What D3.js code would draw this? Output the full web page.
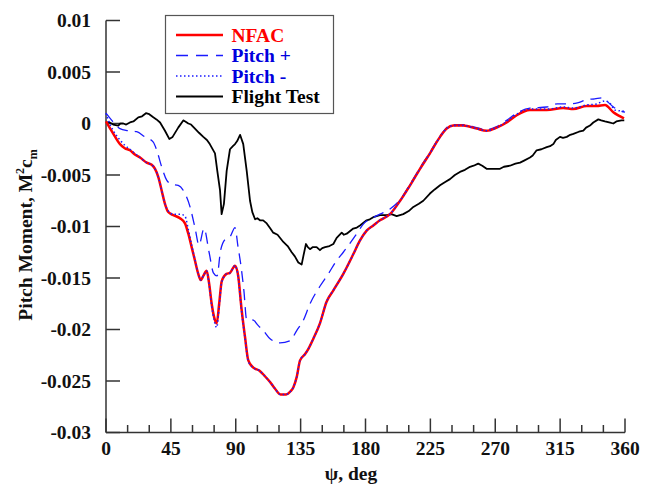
<!DOCTYPE html>
<html><head><meta charset="utf-8">
<script src="https://cdn.jsdelivr.net/npm/d3@7"></script>
<style>body{margin:0;background:#fff}svg{display:block}</style>
</head><body><svg id="c" width="655" height="489"></svg>
<script>
// ---- data (psi deg, pitch moment) ----
const xTicks = [0, 45, 90, 135, 180, 225, 270, 315, 360];
const yTicks = [0.01, 0.005, 0, -0.005, -0.01, -0.015, -0.02, -0.025, -0.03];
const yTickLabels = ["0.01", "0.005", "0", "-0.005", "-0.01", "-0.015", "-0.02", "-0.025", "-0.03"];
const seriesNames = ["NFAC", "Pitch +", "Pitch -", "Flight Test"];

const nfac = [[0,0.0002],[2.5,-0.0004],[5.1,-0.001],[9.7,-0.002],[13,-0.0024],[16.6,-0.0026],[20,-0.003],[23.6,-0.0033],[28.2,-0.0038],[31.7,-0.004],[34,-0.0044],[36.3,-0.0052],[38.6,-0.0065],[40.9,-0.0078],[43.2,-0.0086],[46.7,-0.0089],[51.3,-0.0092],[54.8,-0.0097],[57.1,-0.0107],[59.4,-0.012],[61.7,-0.0133],[64,-0.0146],[65.7,-0.0152],[67.5,-0.0148],[69.8,-0.0143],[71.5,-0.0155],[73.3,-0.0175],[75,-0.0188],[76.8,-0.0194],[78.5,-0.0175],[80.3,-0.0153],[83.6,-0.0146],[86,-0.0145],[89.5,-0.0138],[91.7,-0.0148],[94,-0.018],[96.4,-0.0207],[98.7,-0.023],[102.2,-0.0237],[106.5,-0.024],[110,-0.0245],[113.8,-0.0251],[117,-0.0257],[121,-0.0263],[125,-0.0263],[128,-0.026],[130,-0.0256],[132.3,-0.0246],[134.6,-0.023],[138,-0.0224],[140.3,-0.0219],[143.8,-0.0209],[148.4,-0.0194],[153,-0.0173],[157.7,-0.0162],[164.6,-0.0146],[171.5,-0.0127],[176,-0.0114],[180.8,-0.0104],[185.4,-0.0099],[190,-0.0094],[197,-0.0088],[204,-0.0075],[210.9,-0.006],[217.8,-0.0044],[224.7,-0.0029],[231.7,-0.0013],[236.3,-0.0005],[240.9,-0.0002],[247.8,-0.0002],[257.1,-0.0005],[264,-0.0007],[271,-0.0004],[277.9,0.0001],[284.9,0.0008],[294.1,0.0013],[305.7,0.0013],[317.2,0.0015],[324.1,0.0014],[333.4,0.0017],[340.3,0.0017],[346.1,0.0018],[351.9,0.0011],[359.3,0.0005]];

const pitchMinus = [[0,0.001],[2.5,0.0],[5.1,-0.0007],[9.7,-0.0016],[13,-0.0021],[16.6,-0.0025],[20,-0.0029],[23.6,-0.0033],[28.2,-0.0038],[31.7,-0.004],[34,-0.0044],[36.3,-0.0052],[38.6,-0.0065],[40.9,-0.0078],[43.2,-0.0085],[46.7,-0.0088],[51.3,-0.0088],[54.8,-0.009],[57.1,-0.0103],[59.4,-0.0118],[61.7,-0.0132],[64,-0.0146],[65.7,-0.0152],[67.5,-0.0148],[69.8,-0.0143],[71.5,-0.0156],[73.3,-0.0177],[75,-0.0191],[76.8,-0.0198],[78.5,-0.0178],[80.3,-0.0154],[83.6,-0.0146],[86,-0.0145],[89.5,-0.0138],[91.7,-0.0149],[94,-0.0182],[96.4,-0.0208],[98.7,-0.0231],[102.2,-0.0237],[106.5,-0.024],[110,-0.0245],[113.8,-0.0251],[117,-0.0257],[121,-0.0263],[125,-0.0263],[128,-0.026],[130,-0.0256],[132.3,-0.0246],[134.6,-0.023],[138,-0.0224],[140.3,-0.0219],[143.8,-0.0209],[148.4,-0.0194],[153,-0.0173],[157.7,-0.0162],[164.6,-0.0146],[171.5,-0.0127],[176,-0.0114],[180.8,-0.0104],[185.4,-0.0099],[190,-0.0094],[197,-0.0088],[204,-0.0075],[210.9,-0.006],[217.8,-0.0044],[224.7,-0.0029],[231.7,-0.0013],[236.3,-0.0005],[240.9,-0.0002],[247.8,-0.0002],[257.1,-0.0005],[264,-0.0007],[271,-0.0004],[277.9,0.0002],[284.9,0.0009],[294.1,0.0014],[305.7,0.0014],[317.2,0.0016],[324.1,0.0015],[333.4,0.0018],[340.3,0.0019],[346.1,0.0022],[350,0.0019],[353,0.0013],[359.3,0.0012]];

const pitchPlus = [[0,0.001],[4,0.0003],[9.7,-0.0005],[15,-0.0007],[21.3,-0.0008],[27,-0.0013],[32.8,-0.0018],[35.2,-0.0026],[38.6,-0.0042],[42.1,-0.0055],[45.6,-0.0059],[50.1,-0.006],[54.8,-0.0068],[58.3,-0.0081],[61.7,-0.0101],[64.5,-0.0118],[68,-0.0102],[71.5,-0.0125],[74.5,-0.0145],[77,-0.0148],[79.5,-0.0123],[83,-0.0112],[86,-0.011],[89.5,-0.0101],[91.5,-0.0119],[93.6,-0.0138],[95.7,-0.0163],[97.5,-0.019],[102.2,-0.0191],[105.5,-0.0196],[109.1,-0.0201],[113.8,-0.0209],[120.7,-0.0213],[127.6,-0.0211],[132.3,-0.0201],[136.9,-0.0191],[141.5,-0.0175],[148.4,-0.0158],[154.2,-0.0146],[160,-0.0133],[164.6,-0.0125],[170.4,-0.0114],[173.9,-0.0107],[179.6,-0.0096],[183.1,-0.0093],[190,-0.0088],[197,-0.0083],[204,-0.0074],[210.9,-0.0059],[217.8,-0.0043],[224.7,-0.0028],[231.7,-0.0012],[236.3,-0.0004],[240.9,-0.0001],[247.8,-0.0001],[257.1,-0.0004],[264,-0.0006],[271,-0.0003],[277.9,0.0003],[284.9,0.001],[294.1,0.0015],[305.7,0.0016],[313,0.0019],[320,0.0019],[327,0.002],[333,0.0023],[339,0.0024],[345,0.0025],[348,0.0021],[352,0.0016],[357,0.0012],[360,0.0011]];

const flightTest = [[0,0.0001],[2.5,0.0001],[5,-0.0001],[8.5,-0.0002],[10,0.0],[12,0.0],[14,-0.0001],[16.6,0.0001],[19,0.0002],[22.4,0.0006],[25,0.0007],[27.7,0.001],[30,0.0009],[32.8,0.0006],[35,0.0004],[37.5,0.0001],[40.9,-0.0007],[43.9,-0.0015],[46.2,-0.0013],[50.1,-0.0004],[53.6,0.0003],[55,0.0002],[57.1,0.0],[59,-0.0001],[61.7,-0.0005],[64.5,-0.0009],[67.5,-0.0013],[70,-0.0016],[72,-0.002],[75.6,-0.0029],[77.2,-0.0046],[79.1,-0.0065],[80.2,-0.0088],[81.8,-0.0078],[83.7,-0.0046],[86,-0.0025],[88,-0.0022],[89.5,-0.002],[91,-0.0017],[93,-0.0011],[95.2,-0.002],[97.6,-0.0046],[99.9,-0.0075],[101.5,-0.0086],[103.4,-0.0093],[105,-0.0092],[106.8,-0.0094],[109,-0.0094],[111.5,-0.0097],[114,-0.0102],[116,-0.0106],[119,-0.0108],[123,-0.0115],[126,-0.0119],[128.8,-0.0125],[131,-0.0129],[133.4,-0.0135],[135.7,-0.0137],[137,-0.0128],[138.7,-0.0117],[140,-0.012],[141.5,-0.0122],[143.5,-0.012],[146.1,-0.012],[148.4,-0.0123],[150,-0.0121],[152,-0.012],[155,-0.0119],[157.7,-0.0117],[160,-0.0111],[163.5,-0.0106],[165,-0.0108],[167,-0.0107],[171.5,-0.0102],[174,-0.0101],[176.2,-0.0099],[180.8,-0.0094],[183,-0.0093],[185.4,-0.0091],[190,-0.0089],[194.7,-0.0089],[198,-0.0088],[201.6,-0.009],[206.2,-0.0088],[210,-0.0085],[213.2,-0.0081],[217,-0.0078],[220.1,-0.0075],[224.7,-0.0068],[228,-0.0064],[231.7,-0.006],[235,-0.0057],[238.6,-0.0054],[242,-0.005],[245.5,-0.0047],[249,-0.0045],[252.5,-0.0042],[255,-0.0041],[258.2,-0.0039],[261,-0.0041],[264,-0.0044],[268,-0.0044],[273.3,-0.0044],[276,-0.0042],[280.2,-0.0041],[284,-0.0039],[287.2,-0.0038],[290,-0.0036],[294.1,-0.0033],[296,-0.0031],[298.7,-0.0026],[302,-0.0025],[305.7,-0.0023],[308,-0.0022],[310.3,-0.002],[312,-0.0016],[314.9,-0.0013],[317,-0.0014],[319.6,-0.0013],[322,-0.0011],[324.2,-0.001],[328,-0.0008],[331.1,-0.0007],[333,-0.0004],[335.7,-0.0002],[338,0.0001],[341.5,0.0004],[343.5,0.0003],[346.1,0.0002],[349,0.0001],[351.9,0.0],[354,0.0002],[357.6,0.0003],[359.5,0.0003]];

// ---- layout ----
const svg = d3.select("#c");
const FONT = "'Liberation Serif','Times New Roman',serif";
const x = d3.scaleLinear().domain([0, 360]).range([106, 625]);
const y = d3.scaleLinear().domain([-0.03, 0.01]).range([432.5, 20.5]);

// axes
const axisCol = "#333";
svg.append("line").attr("x1", 106).attr("x2", 106).attr("y1", y(0.01)).attr("y2", y(-0.03))
  .attr("stroke", axisCol).attr("stroke-width", 1.5);
svg.append("line").attr("x1", 106).attr("x2", 625).attr("y1", y(-0.03)).attr("y2", y(-0.03))
  .attr("stroke", axisCol).attr("stroke-width", 1.5);

// y ticks (inward)
yTicks.forEach((v, i) => {
  svg.append("line").attr("x1", x(0)).attr("x2", x(0) + 14).attr("y1", y(v)).attr("y2", y(v))
    .attr("stroke", axisCol).attr("stroke-width", 1.5);
  svg.append("text").attr("x", 91).attr("y", y(v)).attr("dy", "0.35em")
    .attr("text-anchor", "end").attr("font-family", FONT).attr("font-weight", "bold")
    .attr("font-size", 19.5).attr("fill", "#111").text(yTickLabels[i]);
});
// x ticks (inward, major 45, minor 15)
d3.range(0, 361, 15).forEach(d => {
  const major = d % 45 === 0;
  svg.append("line").attr("x1", x(d)).attr("x2", x(d)).attr("y1", y(-0.03)).attr("y2", y(-0.03) - (major ? 14 : 7.5))
    .attr("stroke", axisCol).attr("stroke-width", 1.5);
});
xTicks.forEach(d => {
  svg.append("text").attr("x", x(d)).attr("y", 455).attr("text-anchor", "middle")
    .attr("font-family", FONT).attr("font-weight", "bold").attr("font-size", 19.5).attr("fill", "#111").text(d);
});

// axis titles
svg.append("text").attr("x", 351).attr("y", 480).attr("text-anchor", "middle")
  .attr("font-family", FONT).attr("font-weight", "bold").attr("font-size", 19.5).attr("fill", "#111").text("ψ, deg");
const yt = svg.append("text").attr("transform", "translate(32,235) rotate(-90)").attr("text-anchor", "middle")
  .attr("font-family", FONT).attr("font-weight", "bold").attr("font-size", 19.5).attr("fill", "#111");
yt.append("tspan").text("Pitch Moment, M");
yt.append("tspan").attr("font-size", 12).attr("dy", -8).text("2");
yt.append("tspan").attr("font-size", 19.5).attr("dy", 8).text("c");
yt.append("tspan").attr("font-size", 12).attr("dy", 5).text("m");

// lines
const lineSmooth = d3.line().x(d => x(d[0])).y(d => y(d[1])).curve(d3.curveMonotoneX);
const lineLin = d3.line().x(d => x(d[0])).y(d => y(d[1]));
const styles = [
  { data: flightTest, gen: lineLin, color: "#000", w: 1.8, dash: null },
  { data: pitchPlus, gen: lineSmooth, color: "#1a1aff", w: 1.3, dash: "11,7" },
  { data: nfac, gen: lineSmooth, color: "#ff0000", w: 2.5, dash: null },
  { data: pitchMinus, gen: lineSmooth, color: "#1a1aff", w: 1.5, dash: "1.5,2.5" }
];
styles.forEach(s => {
  svg.append("path").attr("d", s.gen(s.data)).attr("fill", "none").attr("stroke", s.color)
    .attr("stroke-width", s.w).attr("stroke-dasharray", s.dash).attr("stroke-linejoin", "round");
});

// legend
svg.append("rect").attr("x", 165.5).attr("y", 15.5).attr("width", 168).attr("height", 98)
  .attr("fill", "#fff").attr("stroke", "#555").attr("stroke-width", 1.2);
const legStyles = [
  { color: "#ff0000", w: 2.5, dash: null, text: "#ff0000" },
  { color: "#1a1aff", w: 1.3, dash: "12,8", text: "#0000dd" },
  { color: "#1a1aff", w: 1.5, dash: "1.5,2.5", text: "#0000dd" },
  { color: "#000", w: 1.8, dash: null, text: "#000" }
];
const rowY = [35, 55.5, 76, 96.5];
seriesNames.forEach((n, i) => {
  const s = legStyles[i];
  svg.append("line").attr("x1", 176).attr("x2", 223).attr("y1", rowY[i]).attr("y2", rowY[i])
    .attr("stroke", s.color).attr("stroke-width", s.w).attr("stroke-dasharray", s.dash);
  svg.append("text").attr("x", 231.5).attr("y", rowY[i]).attr("dy", "0.35em")
    .attr("font-family", FONT).attr("font-weight", "bold").attr("font-size", 19.5).attr("fill", s.text).text(n);
});
</script>
</body></html>
